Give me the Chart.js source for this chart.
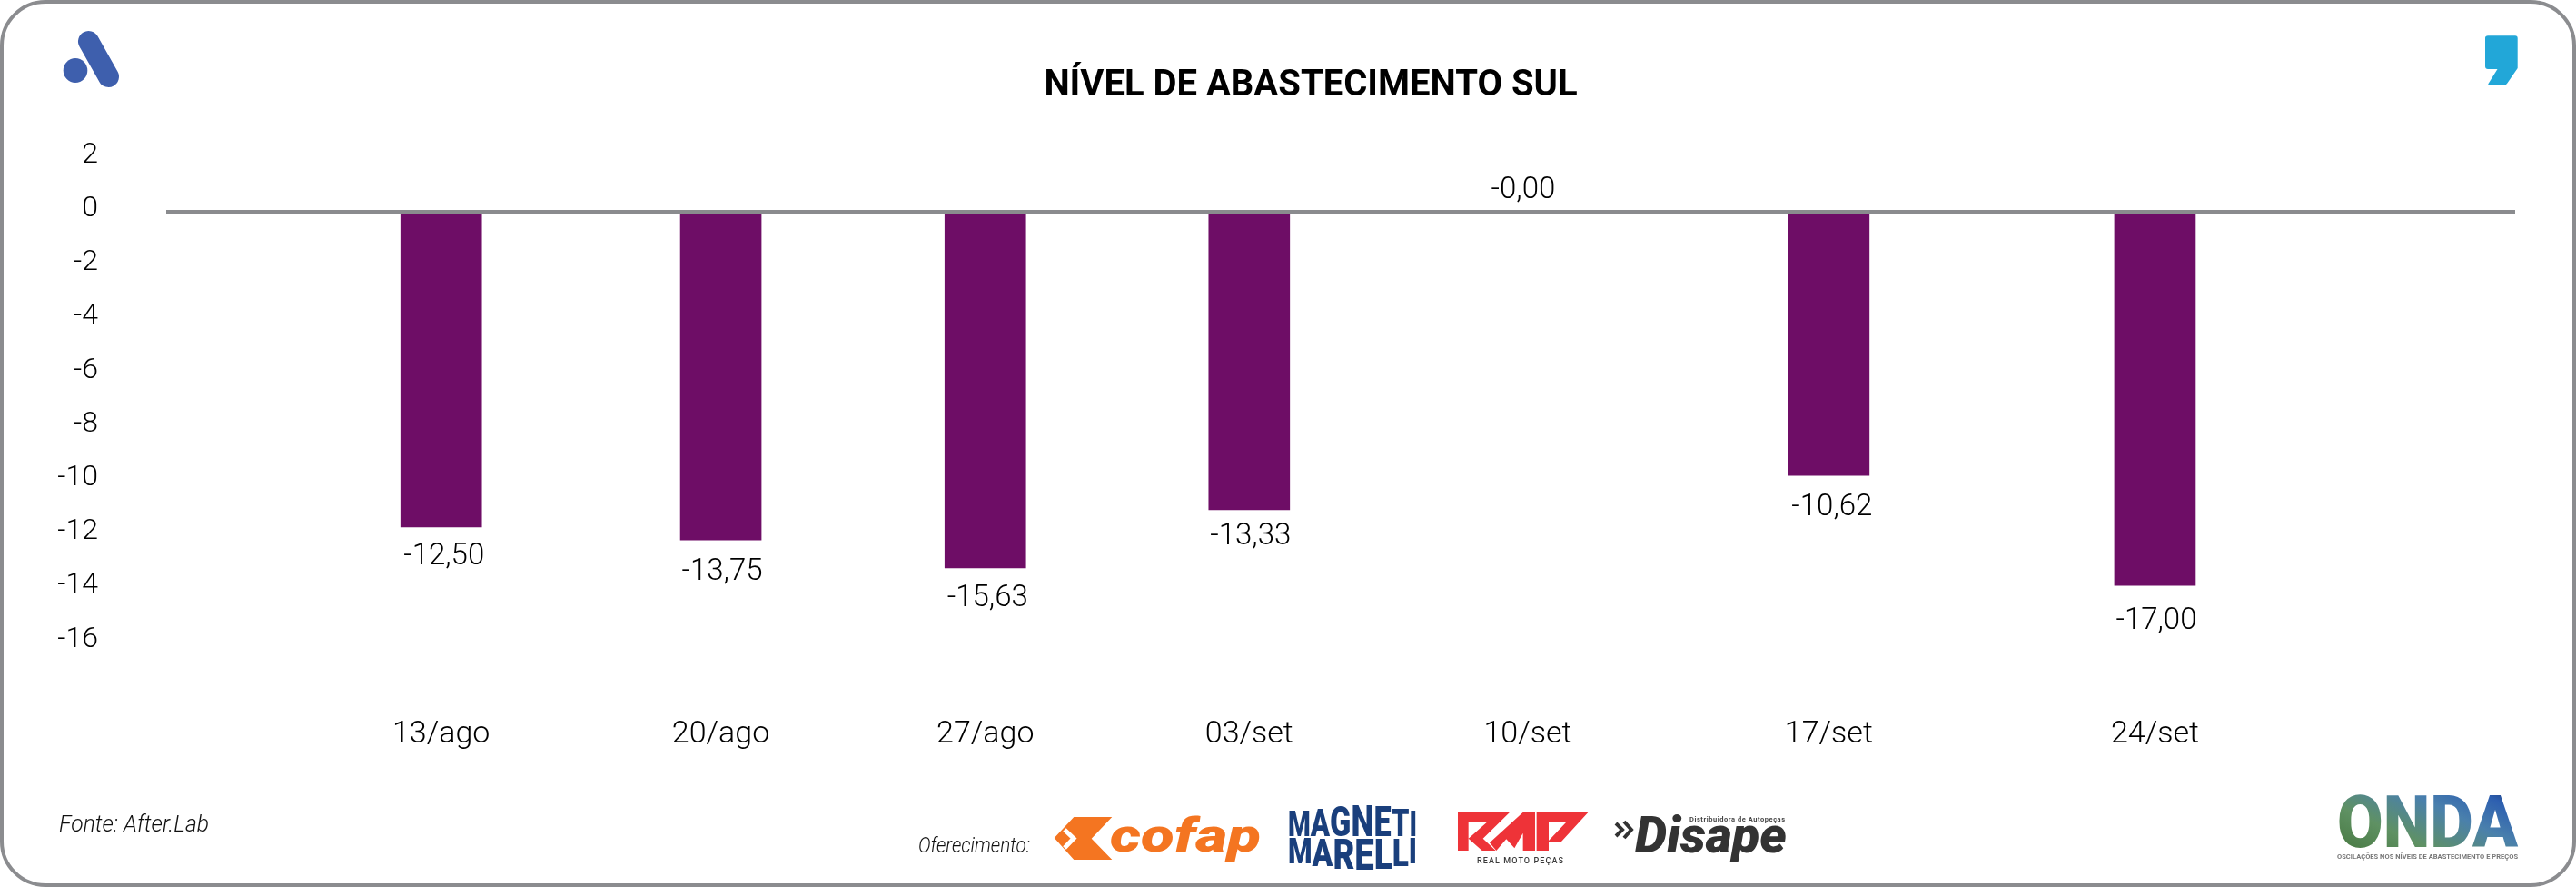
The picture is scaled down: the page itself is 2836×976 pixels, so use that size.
<!DOCTYPE html>
<html lang="pt-BR">
<head>
<meta charset="utf-8">
<title>Nível de abastecimento Sul</title>
<script src="https://cdn.jsdelivr.net/npm/chart.js@4"></script>
<style>
  html, body { margin: 0; padding: 0; background: #fff; }
  #page { position: relative; width: 2836px; height: 976px; overflow: hidden; background: #fff; }
  #chart, #overlay { position: absolute; left: 0; top: 0; }
  #frame {
    position: absolute; left: 0; top: 0; width: 2836px; height: 976px;
    box-sizing: border-box; border: 4px solid #8b8c8f; border-radius: 50px;
  }
  #overlay { pointer-events: none; }
  #overlay text { font-family: Roboto, sans-serif; }
</style>
</head>
<body>
<div id="page">
  <canvas id="chart" width="2836" height="976"></canvas>
  <div id="frame"></div>
  <svg id="overlay" width="2836" height="976" xmlns="http://www.w3.org/2000/svg">
    <defs>
      <linearGradient id="ondaFill" x1="0" y1="1" x2="1" y2="0">
        <stop offset="0" stop-color="#3f7035"/>
        <stop offset="0.35" stop-color="#5f9163"/>
        <stop offset="0.62" stop-color="#4a80ac"/>
        <stop offset="0.82" stop-color="#2d5fb0"/>
        <stop offset="1" stop-color="#0e1f4d"/>
      </linearGradient>
    </defs>

    <!-- marca superior esquerda -->
    <line x1="97.5" y1="45.5" x2="119.5" y2="84.5" stroke="#3e5fad" stroke-width="23" stroke-linecap="round"/>
    <ellipse cx="83" cy="77.5" rx="13.3" ry="13.5" fill="#3e5fad"/>

    <!-- marca superior direita -->
    <path fill="#22a7d8" d="M2739,39.3 H2769 Q2771.7,39.3 2771.7,42 V75 L2760,92 Q2758.5,94 2756,94 H2741
      Q2738.5,94 2739.5,92 L2749.5,76 H2739 Q2736,76 2736,73 V42 Q2736,39.3 2739,39.3 Z"/>

    <text x="65" y="915" font-style="italic" font-weight="300" font-size="25" fill="#111"
      textLength="165" lengthAdjust="spacingAndGlyphs">Fonte: After.Lab</text>
    <text x="1011" y="938" font-style="italic" font-weight="300" font-size="23" fill="#111"
      textLength="123" lengthAdjust="spacingAndGlyphs">Oferecimento:</text>

    <!-- cofap -->
    <polygon fill="#f47521" points="1160.7,922 1182.3,899 1224.3,899 1201.7,922.7 1224.3,946 1182.3,946"/>
    <polyline fill="none" stroke="#fff" stroke-width="5" points="1172,913 1182,922.5 1172,933"/>
    <text x="1222" y="936.7" font-weight="900" font-style="italic" font-size="52"
      fill="#f47521" textLength="166" lengthAdjust="spacingAndGlyphs">cofap</text>

    <!-- magneti marelli: o tamanho de cada letra acompanha o arco do logo -->
    <g font-weight="900" fill="#1a3f7c">
      <text x="1418" y="919.5" textLength="142" lengthAdjust="spacingAndGlyphs"><tspan font-size="38">M</tspan><tspan font-size="42">A</tspan><tspan font-size="46">G</tspan><tspan font-size="48">N</tspan><tspan font-size="46">E</tspan><tspan font-size="42">T</tspan><tspan font-size="38">I</tspan></text>
      <text x="1418" y="950" textLength="142" lengthAdjust="spacingAndGlyphs"><tspan font-size="38">M</tspan><tspan font-size="42" dy="3">A</tspan><tspan font-size="46" dy="3">R</tspan><tspan font-size="48" dy="1">E</tspan><tspan font-size="46" dy="-1">L</tspan><tspan font-size="42" dy="-3">L</tspan><tspan font-size="38" dy="-3">I</tspan></text>
    </g>

    <!-- rmp -->
    <g fill="#ee3338" transform="translate(1590 880) scale(0.3333)" fill-rule="evenodd">
      <path d="M45,40 H218 L128,128 L170,168 H125 L80,128 V168 H45 Z M80,75 V128 L140,75 Z"/>
      <path d="M262,40 H300 V168 H260 V110 L232,160 L205,130 L172,168 L150,142 Z"/>
      <path d="M305,40 H477 L385,140 H345 V168 H305 Z M345,75 V135 L402,75 Z"/>
    </g>
    <text x="1626" y="950" font-size="9" font-weight="500" fill="#3a3a3a"
      textLength="95" lengthAdjust="spacing">REAL MOTO PEÇAS</text>

    <!-- disape -->
    <g fill="none" stroke="#333" stroke-width="4">
      <polyline points="1779,906 1786,913 1779,920"/>
      <polyline points="1788,904 1796,913 1788,922"/>
    </g>
    <text x="1800" y="938.3" font-weight="900" font-style="italic" font-size="56"
      fill="#333" textLength="167" lengthAdjust="spacingAndGlyphs">Disape</text>
    <text x="1860" y="904" font-weight="700" font-size="7.5" fill="#444"
      textLength="105" lengthAdjust="spacing">Distribuidora de Autopeças</text>

    <!-- onda -->
    <text x="2573" y="932" font-weight="900" font-size="80" fill="url(#ondaFill)"
      textLength="199" lengthAdjust="spacingAndGlyphs">ONDA</text>
    <text x="2573" y="945" font-size="7.5" font-weight="700" fill="#777"
      textLength="199" lengthAdjust="spacing">OSCILAÇÕES NOS NÍVEIS DE ABASTECIMENTO E PREÇOS</text>
  </svg>
</div>

<script>
  // Dados
  const chartTitle = "NÍVEL DE ABASTECIMENTO SUL";
  const weeks = ["13/ago", "20/ago", "27/ago", "03/set", "10/set", "17/set", "24/set"];
  // altura das barras lida no eixo (a imagem nao bate com os rotulos impressos)
  const barValues = [-11.72, -12.2, -13.24, -11.08, 0, -9.8, -13.89];
  const barLabels = ["-12,50", "-13,75", "-15,63", "-13,33", "-0,00", "-10,62", "-17,00"];
  const yTicks = [2, 0, -2, -4, -6, -8, -10, -12, -14, -16];
  // as semanas nao estao igualmente espacadas na imagem
  const weekSlots = [0, 0.979, 1.905, 2.829, 3.804, 4.858, 6];
  // ajuste fino dos rotulos em px: abaixo da barra e para o lado
  const labelGapY = [33, 36, 34, 30, -23, 36, 40];
  const labelGapX = [3, 1.5, 2.5, 1.5, -5, 3.5, 1.5];

  const FONT = "Roboto, sans-serif";
  const INK = "#000";
  const AXIS_GREY = "#8a8b8e";
  const BAR_PURPLE = "#6e0d66";

  // Rotulos de valor (sem chartjs-plugin-datalabels, so ha Chart.js aqui)
  const valueLabels = {
    id: "valueLabels",
    afterDatasetsDraw(chart) {
      const {ctx, scales} = chart;
      ctx.save();
      ctx.font = "300 33px " + FONT;
      ctx.fillStyle = INK;
      ctx.textAlign = "center";
      ctx.textBaseline = "middle";
      barLabels.forEach((label, i) => {
        const x = scales.x.getPixelForValue(weekSlots[i]) + labelGapX[i];
        const y = scales.y.getPixelForValue(barValues[i]) + labelGapY[i];
        ctx.fillText(label, x, y);
      });
      ctx.restore();
    },
  };

  // O titulo da imagem nao fica centrado no canvas, fica um pouco a direita
  const shiftTitle = {
    id: "shiftTitle",
    afterLayout(chart) {
      chart.titleBlock.left += 117;
    },
  };

  const canvas = document.getElementById("chart");
  // a fonte original e bem mais estreita que as instaladas
  canvas.getContext("2d").letterSpacing = "-1.5px";

  new Chart(canvas, {
    type: "bar",
    data: {
      datasets: [{
        data: weekSlots.map((slot, i) => ({x: slot, y: barValues[i]})),
        backgroundColor: (ctx) => (ctx.raw && ctx.raw.y === 0 ? "rgba(0,0,0,0)" : BAR_PURPLE),
        borderWidth: 0,
        barThickness: 89,
      }],
    },
    plugins: [valueLabels, shiftTitle],
    options: {
      responsive: false,
      animation: false,
      layout: {padding: {left: 0, right: 67, top: 0, bottom: 0}},
      plugins: {
        legend: {display: false},
        tooltip: {enabled: false},
        title: {
          display: true,
          text: chartTitle,
          color: "#000",
          font: {family: FONT, size: 40, weight: "700", lineHeight: 1.2},
          padding: {top: 71, bottom: 54.8},
        },
      },
      scales: {
        x: {
          type: "linear",
          offset: false,
          min: -0.9626,
          max: 7.261,
          afterBuildTicks: (axis) => {
            axis.ticks = weekSlots.map((slot) => ({value: slot}));
          },
          afterFit: (axis) => {
            axis.height = 269.4;
          },
          grid: {display: false},
          border: {display: false},
          ticks: {
            autoSkip: false,
            maxRotation: 0,
            padding: 73,
            color: INK,
            font: {family: FONT, size: 34, weight: "300"},
            callback: (value, index) => weeks[index],
          },
        },
        y: {
          min: -16,
          max: 2,
          afterBuildTicks: (axis) => {
            axis.ticks = yTicks.map((v) => ({value: v}));
          },
          afterFit: (axis) => {
            axis.width = 183;
          },
          grid: {
            drawTicks: false,
            color: (ctx) => (ctx.tick && ctx.tick.value === 0 ? AXIS_GREY : "rgba(0,0,0,0)"),
            lineWidth: (ctx) => (ctx.tick && ctx.tick.value === 0 ? 5 : 0),
          },
          border: {display: false},
          ticks: {
            padding: 75,
            labelOffset: -3,
            color: INK,
            font: {family: FONT, size: 32, weight: "300"},
            callback: (value) => String(value),
          },
        },
      },
    },
  });
</script>
</body>
</html>
